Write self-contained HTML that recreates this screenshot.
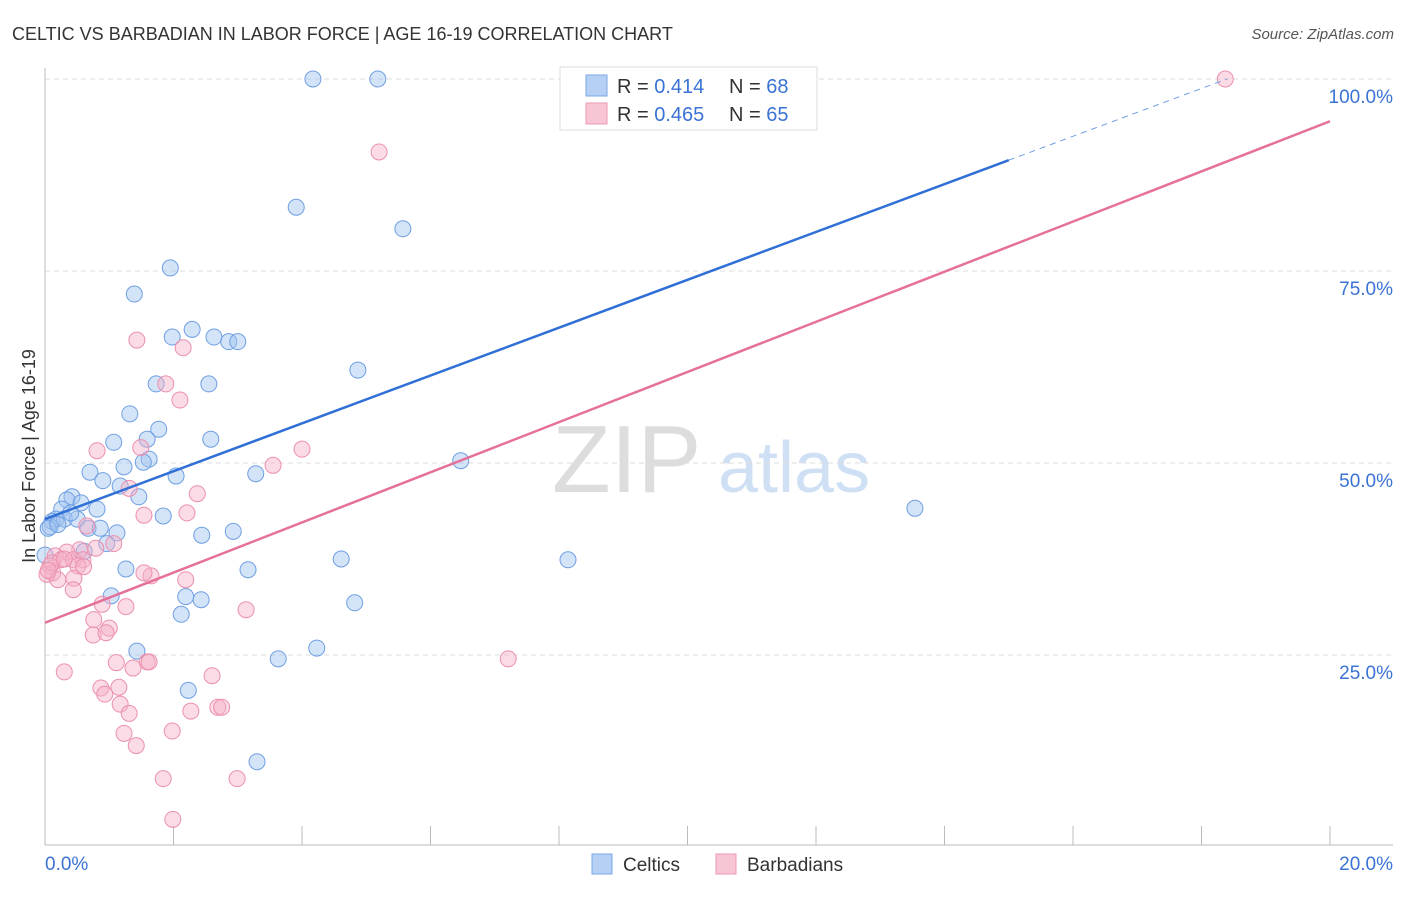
<!DOCTYPE html>
<html><head><meta charset="utf-8"><style>
body{margin:0;background:#fff;font-family:"Liberation Sans",sans-serif}
svg text{font-family:"Liberation Sans",sans-serif}
</style></head><body>
<svg id="chart" width="1406" height="892" xmlns="http://www.w3.org/2000/svg">
<text x="12" y="40" font-size="18" fill="#333">CELTIC VS BARBADIAN IN LABOR FORCE | AGE 16-19 CORRELATION CHART</text>
<text x="1394" y="39" font-size="15" fill="#555" font-style="italic" text-anchor="end">Source: ZipAtlas.com</text>
<g>
<text x="552" y="492" font-size="96" fill="#ddd" font-family="Liberation Serif">ZIP</text>
<text x="718" y="492" font-size="72" fill="#cfe0f5">atlas</text>
</g>
<g id="grid"></g>
<g id="axes"></g>
<g id="pts"></g>
<g id="lines"></g>
<g>
<rect x="560" y="67" width="257" height="63" fill="#fff" stroke="#ddd"/>
<rect x="586" y="75" width="21" height="21" fill="#b5cff5" stroke="#7aa7e6"/>
<text x="617" y="93" font-size="20" fill="#333">R = <tspan fill="#3a73d4">0.414</tspan></text>
<text x="729" y="93" font-size="20" fill="#333">N = <tspan fill="#3a73d4">68</tspan></text>
<rect x="586" y="103" width="21" height="21" fill="#f8c5d4" stroke="#ec9ab5"/>
<text x="617" y="121" font-size="20" fill="#333">R = <tspan fill="#3a73d4">0.465</tspan></text>
<text x="729" y="121" font-size="20" fill="#333">N = <tspan fill="#3a73d4">65</tspan></text>
</g>
<g>
<rect x="592" y="854" width="20" height="20" fill="#b5cff5" stroke="#7aa7e6"/>
<text x="623" y="871" font-size="19" fill="#333">Celtics</text>
<rect x="716" y="854" width="20" height="20" fill="#f8c5d4" stroke="#ec9ab5"/>
<text x="747" y="871" font-size="19" fill="#333">Barbadians</text>
</g>
<text x="35" y="456" font-size="18" fill="#333" text-anchor="middle" transform="rotate(-90 35 456)">In Labor Force | Age 16-19</text>
</svg>
<script>
const celticX=[4.17,5.18,3.91,5.57,1.95,1.39,1.98,2.29,2.63,2.86,3.00,4.87,1.73,2.55,1.32,1.77,1.59,2.58,1.07,1.62,1.53,1.23,0.70,2.04,3.28,6.47,0.90,1.17,1.46,0.42,0.34,0.56,0.81,0.26,1.84,0.17,0.11,0.30,0.50,0.08,0.67,0.86,1.12,2.93,2.44,0.96,0.61,13.54,4.61,8.14,1.26,3.16,1.03,2.19,2.43,4.82,2.12,4.23,1.43,3.63,2.23,3.30,0.0,8.51,10.27,0.05,0.2,0.4];
const celticY=[100,100,83.3,80.5,75.4,72.0,66.4,67.4,66.4,65.8,65.8,62.1,60.3,60.3,56.4,54.4,53.1,53.1,52.7,50.5,50.1,49.5,48.8,48.3,48.6,50.3,47.7,47.0,45.6,45.6,45.2,44.8,44.0,44.0,43.1,42.7,42.4,42.7,42.7,41.7,41.5,41.5,40.9,41.1,40.6,39.5,38.5,44.1,37.5,37.4,36.2,36.1,32.7,32.6,32.2,31.8,30.3,25.9,25.5,24.5,20.4,11.1,38.0,100,100,41.5,42.0,43.5];
const barbX=[18.37,5.20,1.43,2.15,1.88,2.10,4.00,0.81,3.55,1.49,1.31,2.37,1.54,2.21,0.65,1.07,0.54,0.34,0.16,0.25,0.44,0.59,0.08,0.51,0.12,0.03,0.20,0.45,0.44,1.65,1.54,2.19,0.89,1.26,3.13,0.76,0.75,1.00,0.95,1.59,1.62,1.11,1.37,2.60,0.30,0.87,1.15,0.93,1.17,2.69,2.75,2.27,1.31,1.23,1.42,1.98,7.21,1.84,2.99,1.99,0.11,0.79,0.05,0.6,0.3];
const barbY=[100,90.5,66.0,65.0,60.3,58.2,51.8,51.6,49.7,52.0,46.7,46.0,43.2,43.5,41.8,39.5,38.7,38.4,37.9,37.4,37.4,37.4,36.6,36.6,35.7,35.5,34.8,35.0,33.5,35.3,35.7,34.8,31.6,31.3,30.9,29.6,27.6,28.5,27.9,24.1,24.1,24.0,23.3,22.3,22.8,20.7,20.8,19.9,18.6,18.2,18.2,17.7,17.4,14.8,13.2,15.1,24.5,8.9,8.9,3.6,37.0,38.9,36.0,36.5,37.5];
const celticLine=[42.7,105.0]; const barbLine=[29.2,94.5];
const yTicks=[25,50,75,100]; const yTickLabels=["25.0%","50.0%","75.0%","100.0%"];
const xTickVals=[0,2,4,6,8,10,12,14,16,18,20];
const sx=v=>45+v*64.25, sy=v=>847-v*7.68;
const NS="http://www.w3.org/2000/svg";
function mk(tag,attrs,parent){const e=document.createElementNS(NS,tag);for(const k in attrs)e.setAttribute(k,attrs[k]);parent.appendChild(e);return e;}
const grid=document.getElementById('grid'),axes=document.getElementById('axes'),pts=document.getElementById('pts'),lines=document.getElementById('lines');
yTicks.forEach((t,i)=>{
 const l=mk('line',{x1:45,x2:1393,y1:sy(t),y2:sy(t),stroke:'#ddd','stroke-dasharray':'5,4'},grid);
 
 
 const tx=mk('text',{x:1393,y:sy(t)+24,'font-size':19,fill:'#3a73d4','text-anchor':'end'},axes);
 tx.textContent=yTickLabels[i];
 
 
});
const ya=mk('line',{x1:45,x2:45,y1:68,y2:845,stroke:'#bbb'},axes);


const xa=mk('line',{x1:45,x2:1393,y1:845,y2:845,stroke:'#bbb'},axes);


xTickVals.forEach(v=>{const t=mk('line',{x1:sx(v),x2:sx(v),y1:826,y2:845,stroke:'#bbb'},axes);
 
 });
const xl0=mk('text',{x:45,y:870,'font-size':19,fill:'#3a73d4'},axes);xl0.textContent='0.0%';


const xl1=mk('text',{x:1393,y:870,'font-size':19,fill:'#3a73d4','text-anchor':'end'},axes);xl1.textContent='20.0%';


celticX.forEach((x,i)=>{const c=mk('circle',{cx:sx(x),cy:sy(celticY[i]),r:8,fill:'rgba(160,195,240,0.45)',stroke:'#6f9fe2','stroke-width':1},pts);
 
 });
barbX.forEach((x,i)=>{const c=mk('circle',{cx:sx(x),cy:sy(barbY[i]),r:8,fill:'rgba(245,175,200,0.45)',stroke:'#eb90ae','stroke-width':1},pts);
 
 });
const cAt=x=>celticLine[0]+(celticLine[1]-celticLine[0])*x/20;
const l1=mk('line',{x1:sx(0),y1:sy(cAt(0)),x2:sx(15),y2:sy(cAt(15)),stroke:'#2f6fd6','stroke-width':2.5},lines);


const l2=mk('line',{x1:sx(15),y1:sy(cAt(15)),x2:sx(18.4),y2:sy(cAt(18.4)),stroke:'#6f9fe2','stroke-width':1,'stroke-dasharray':'6,5'},lines);


const l3=mk('line',{x1:sx(0),y1:sy(barbLine[0]),x2:sx(20),y2:sy(barbLine[1]),stroke:'#e5719a','stroke-width':2.5},lines);


</script>
</body></html>
